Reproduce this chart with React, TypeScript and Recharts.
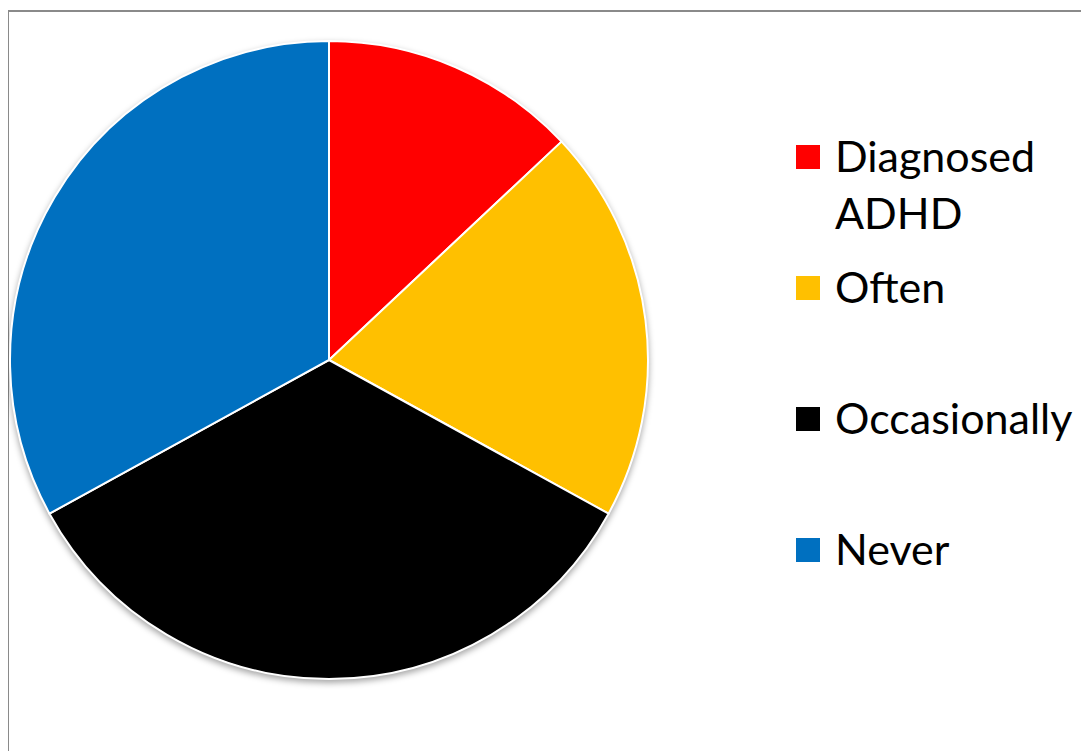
import React from 'react';
import { PieChart, Pie, Cell, Legend } from 'recharts';

const categories = ['Diagnosed ADHD', 'Often', 'Occasionally', 'Never'];
const shares = [13, 20, 34, 33];
const colors = ['#FF0000', '#FFC000', '#000000', '#0070C0'];

const data = categories.map((name, i) => ({ name, value: shares[i] }));

const LegendBox = ({ payload }: { payload?: any[] }) => {
	const items = (payload && payload.length ? [...payload] : data.map((d) => ({ value: d.name }))).sort(
		(a: any, b: any) => categories.indexOf(a.value) - categories.indexOf(b.value)
	);
	return (
		<div style={{ position: 'relative', width: 290, height: 560 }}>
			{items.map((entry: any, i: number) => {
				const idx = categories.indexOf(entry.value);
				return (
					<div
						key={entry.value}
						style={{ position: 'absolute', left: 0, top: i * 131, width: 290 }}
					>
						<div
							style={{
								position: 'absolute',
								left: 0,
								top: 18,
								width: 24,
								height: 24,
								background: colors[idx >= 0 ? idx : i],
							}}
						/>
						<div
							style={{
								position: 'absolute',
								left: 39,
								top: 0,
								width: 250,
								fontFamily: 'Lato, sans-serif',
								fontSize: 43,
								lineHeight: '57px',
								color: '#000',
							}}
						>
							{entry.value}
						</div>
					</div>
				);
			})}
		</div>
	);
};

export default function App() {
	return (
		<div style={{ position: 'relative', width: 1081, height: 743, overflow: 'hidden' }}>
			<style>{'.recharts-pie { filter: drop-shadow(0px 3px 3px rgba(0,0,0,0.35)); }'}</style>
			<div
				style={{
					position: 'absolute',
					left: -1,
					top: 2,
					width: 2000,
					height: 2000,
					borderLeft: '2px solid #8a8a8a',
					borderTop: '2px solid #8a8a8a',
				}}
			/>
			<div style={{ position: 'absolute', left: 0, top: 0 }}>
				<PieChart width={1081} height={743} margin={{ top: 0, right: 0, bottom: 0, left: 0 }}>
					<Pie
						data={data}
						dataKey='value'
						nameKey='name'
						cx={321}
						cy={352}
						outerRadius={319}
						startAngle={90}
						endAngle={-270}
						stroke='#ffffff'
						strokeWidth={2}
						isAnimationActive={false}
					>
						{data.map((d, i) => (
							<Cell key={d.name} fill={colors[i]} />
						))}
					</Pie>
					<Legend
						layout='vertical'
						align='right'
						verticalAlign='top'
						wrapperStyle={{ left: 788, top: 119, width: 290 }}
						content={<LegendBox />}
					/>
				</PieChart>
			</div>
		</div>
	);
}
